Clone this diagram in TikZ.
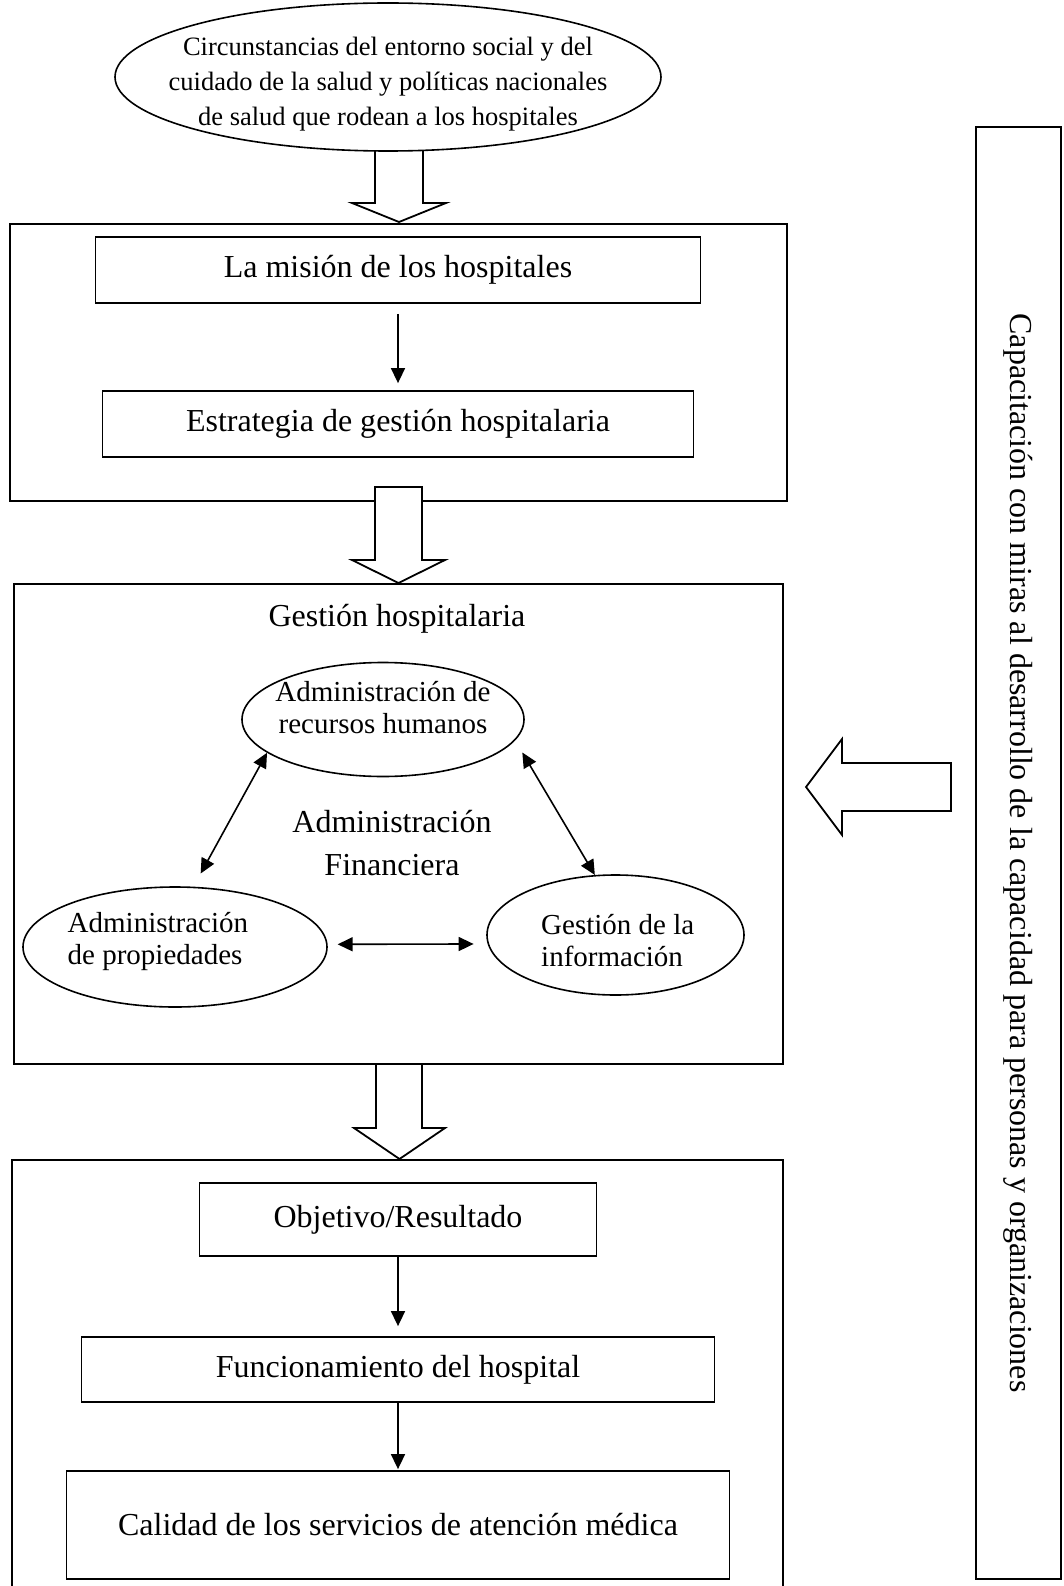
\documentclass[tikz,border=0pt]{standalone}
\usepackage{fontspec}
\setmainfont{Liberation Serif}
\usetikzlibrary{positioning,shapes.geometric,arrows.meta}

\tikzset{
  caja/.style={draw, line width=1.8pt, inner sep=0pt, align=center, fill=white},
  elipse/.style={draw, ellipse, line width=1.6pt, inner sep=0pt, fill=white},
  grande/.style={inner sep=0pt, font=\fontsize{32}{43}\selectfont},
  chico/.style={inner sep=0pt, font=\fontsize{29}{32}\selectfont},
  flecha/.style={line width=1.6pt, -{Triangle[length=15pt,width=14pt]}},
  doble/.style={line width=1.6pt, {Triangle[length=15pt,width=14pt]}-{Triangle[length=15pt,width=14pt]}},
  bloque/.style={draw, line width=1.8pt, fill=white, line join=miter},
}

\begin{document}
\begin{tikzpicture}[x=1pt,y=-1pt]
    \useasboundingbox (0,0) rectangle (1064,1586);

    % marcos
    \node[caja, minimum width=777, minimum height=277] (marco1) at (398.5,362.5) {};
    \node[caja, minimum width=769, minimum height=480] (marco2) at (398.5,824) {};
    \node[caja, minimum width=771, minimum height=440] (marco3) at (397.5,1380) {};

    % entorno
    \draw[bloque] (375,140) -- (375,203) -- (352,203) -- (399,222)
        -- (446,203) -- (423,203) -- (423,140) -- cycle;
    \node[elipse, minimum width=546, minimum height=148] (entorno) at (388,77) {};
    \node[align=center, inner sep=0pt, font=\fontsize{26.5}{35}\selectfont]
        (entornotxt) at (388,84) {Circunstancias del entorno social y del\\
        cuidado de la salud y políticas nacionales\\
        de salud que rodean a los hospitales};

    % mision y estrategia
    \node[caja, grande, minimum width=605, minimum height=66] (mision) at (398,270)
        {La misión de los hospitales};
    \node[caja, grande, minimum width=591, minimum height=66] (estrategia) at (398,424)
        {Estrategia de gestión hospitalaria};
    \draw[flecha, shorten <=10pt, shorten >=7pt] (mision.south) -- (estrategia.north);

    \draw[bloque] (375,487) -- (375,560) -- (352,560) -- (398.5,583)
        -- (445,560) -- (422,560) -- (422,487) -- cycle;

    % gestion hospitalaria
    \node[grande] (gestion) at (397,619) {Gestión hospitalaria};
    \node[elipse, minimum width=282, minimum height=114] (rrhh) at (383,719.5) {};
    \node[chico, align=center] (rrhhtxt) at (383,708) {Administración de\\recursos humanos};
    \node[elipse, minimum width=304, minimum height=120] (prop) at (175,947) {};
    \node[chico, align=left, anchor=west] (proptxt) at (67.5,941) {Administración\\de propiedades};
    \node[elipse, minimum width=257, minimum height=120] (info) at (615.5,935) {};
    \node[chico, align=left, anchor=west] (infotxt) at (541,941) {Gestión de la\\información};
    \node[grande, align=center] (finan) at (392,843.5) {Administración\\Financiera};

    \draw[doble, shorten >=15pt] (rrhh.196.7) -- (prop.73.6);
    \draw[doble, shorten <=14pt] (rrhh.351.2) -- (info.109.7);
    \draw[doble, shorten <=10pt, shorten >=14pt] (prop.1) -- (info.184.5);

    \draw[bloque] (376,1064) -- (376,1128) -- (354,1128) -- (399.5,1159)
        -- (445,1128) -- (422,1128) -- (422,1064) -- cycle;

    % resultado
    \node[caja, grande, minimum width=397, minimum height=73] (objetivo) at (398,1219.5)
        {Objetivo/Resultado};
    \node[caja, grande, minimum width=633, minimum height=65] (funcion) at (398,1369.5)
        {Funcionamiento del hospital};
    \node[caja, grande, minimum width=663, minimum height=108] (calidad) at (398,1525)
        {Calidad de los servicios de atención médica};
    \draw[flecha, shorten >=10pt] (objetivo.south) -- (funcion.north);
    \draw[flecha, shorten >=1pt] (funcion.south) -- (calidad.north);

    % capacitacion
    \node[caja, grande, rotate=-90, minimum width=1452, minimum height=85] (capac)
        at (1018.5,853) {Capacitación con miras al desarrollo de la capacidad para personas y organizaciones};
    \draw[bloque] (951,763) -- (842,763) -- (842,739) -- (806,787)
        -- (842,835) -- (842,811) -- (951,811) -- cycle;
\end{tikzpicture}
\end{document}
